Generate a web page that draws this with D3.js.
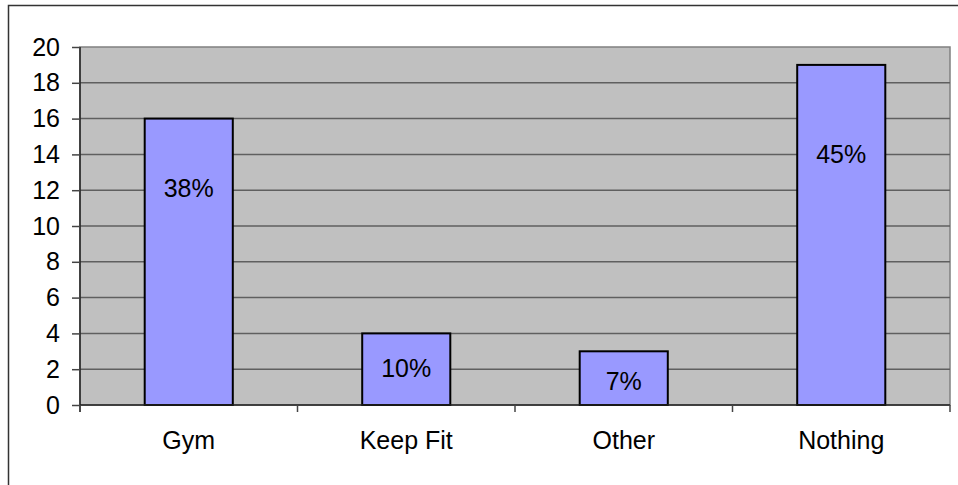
<!DOCTYPE html>
<html>
<head>
<meta charset="utf-8">
<script src="https://cdn.jsdelivr.net/npm/d3@7"></script>
<style>
  body { margin: 0; background: #fff; }
  text { font-family: "Liberation Sans", Arial, sans-serif; fill: #000; }
</style>
</head>
<body>
<div id="chart"></div>
<script>
// data
const categories = ["Gym", "Keep Fit", "Other", "Nothing"];
const counts = [16, 4, 3, 19];
const percentLabels = ["38%", "10%", "7%", "45%"];
const labelAt = [12.1, 2.05, 1.35, 14];   // where each % label sits, in axis units
const yTicks = [0, 2, 4, 6, 8, 10, 12, 14, 16, 18, 20];

const margin = {top: 47, right: 8, bottom: 80, left: 80},
    W = 958, H = 485,
    width = W - margin.left - margin.right,
    height = H - margin.top - margin.bottom,
    fontSize = "25px";

const root = d3.select("#chart")
    .append("svg")
    .attr("width", W)
    .attr("height", H);

// outer chart border (runs off the right and bottom edges)
root.append("rect")
    .attr("x", 8.5).attr("y", 5.5)
    .attr("width", W).attr("height", H)
    .attr("fill", "none")
    .attr("stroke", "#333")
    .attr("stroke-width", 1.5);

const svg = root.append("g")
    .attr("transform", `translate(${margin.left},${margin.top})`);

const x = d3.scaleBand()
    .domain(categories)
    .range([0, width])
    .paddingInner(0.595)
    .paddingOuter(0.2975);

const y = d3.scaleLinear()
    .domain([0, 20])
    .range([height, 0]);

// plot area
svg.append("rect")
    .attr("width", width)
    .attr("height", height)
    .attr("fill", "#c0c0c0")
    .attr("stroke", "#808080")
    .attr("stroke-width", 1.5);

// gridlines
svg.selectAll(".grid")
    .data(yTicks.filter(d => d > 0 && d < 20))
    .enter()
    .append("line")
    .attr("x1", 0).attr("x2", width)
    .attr("y1", d => y(d)).attr("y2", d => y(d))
    .attr("stroke", "#5f5f5f")
    .attr("stroke-width", 1.5);

// bars
svg.selectAll(".bar")
    .data(counts)
    .enter()
    .append("rect")
    .attr("x", (d, i) => x(categories[i]))
    .attr("y", d => y(d))
    .attr("width", x.bandwidth())
    .attr("height", d => height - y(d))
    .attr("fill", "#9999ff")
    .attr("stroke", "#000")
    .attr("stroke-width", 2);

// percent labels
svg.selectAll(".pct")
    .data(percentLabels)
    .enter()
    .append("text")
    .attr("x", (d, i) => x(categories[i]) + x.bandwidth() / 2)
    .attr("y", (d, i) => y(labelAt[i]))
    .attr("dy", "0.36em")
    .attr("text-anchor", "middle")
    .attr("font-size", fontSize)
    .text(d => d);

// y axis
const yAxis = svg.append("g")
    .call(d3.axisLeft(y).tickValues(yTicks).tickSize(8).tickPadding(12));
yAxis.select(".domain")
    .attr("d", `M0,0V${height + 7}`)
    .attr("stroke", "#222")
    .attr("stroke-width", 1.5);
yAxis.selectAll(".tick line").attr("stroke", "#444").attr("stroke-width", 1.5);
yAxis.selectAll(".tick text")
    .attr("font-size", fontSize)
    .attr("font-family", "Liberation Sans, Arial, sans-serif")
    .attr("fill", "#000");

// x axis: tick marks at category boundaries
const bounds = d3.range(categories.length + 1).map(i => i * width / categories.length);
svg.append("line")
    .attr("x1", 0).attr("x2", width)
    .attr("y1", height).attr("y2", height)
    .attr("stroke", "#222")
    .attr("stroke-width", 1.5);
svg.selectAll(".xtick")
    .data(bounds)
    .enter()
    .append("line")
    .attr("x1", d => d).attr("x2", d => d)
    .attr("y1", height).attr("y2", height + 7)
    .attr("stroke", "#444")
    .attr("stroke-width", 1.5);

svg.selectAll(".xlabel")
    .data(categories)
    .enter()
    .append("text")
    .attr("x", d => x(d) + x.bandwidth() / 2)
    .attr("y", height + 44)
    .attr("text-anchor", "middle")
    .attr("font-size", fontSize)
    .text(d => d);
</script>
</body>
</html>
